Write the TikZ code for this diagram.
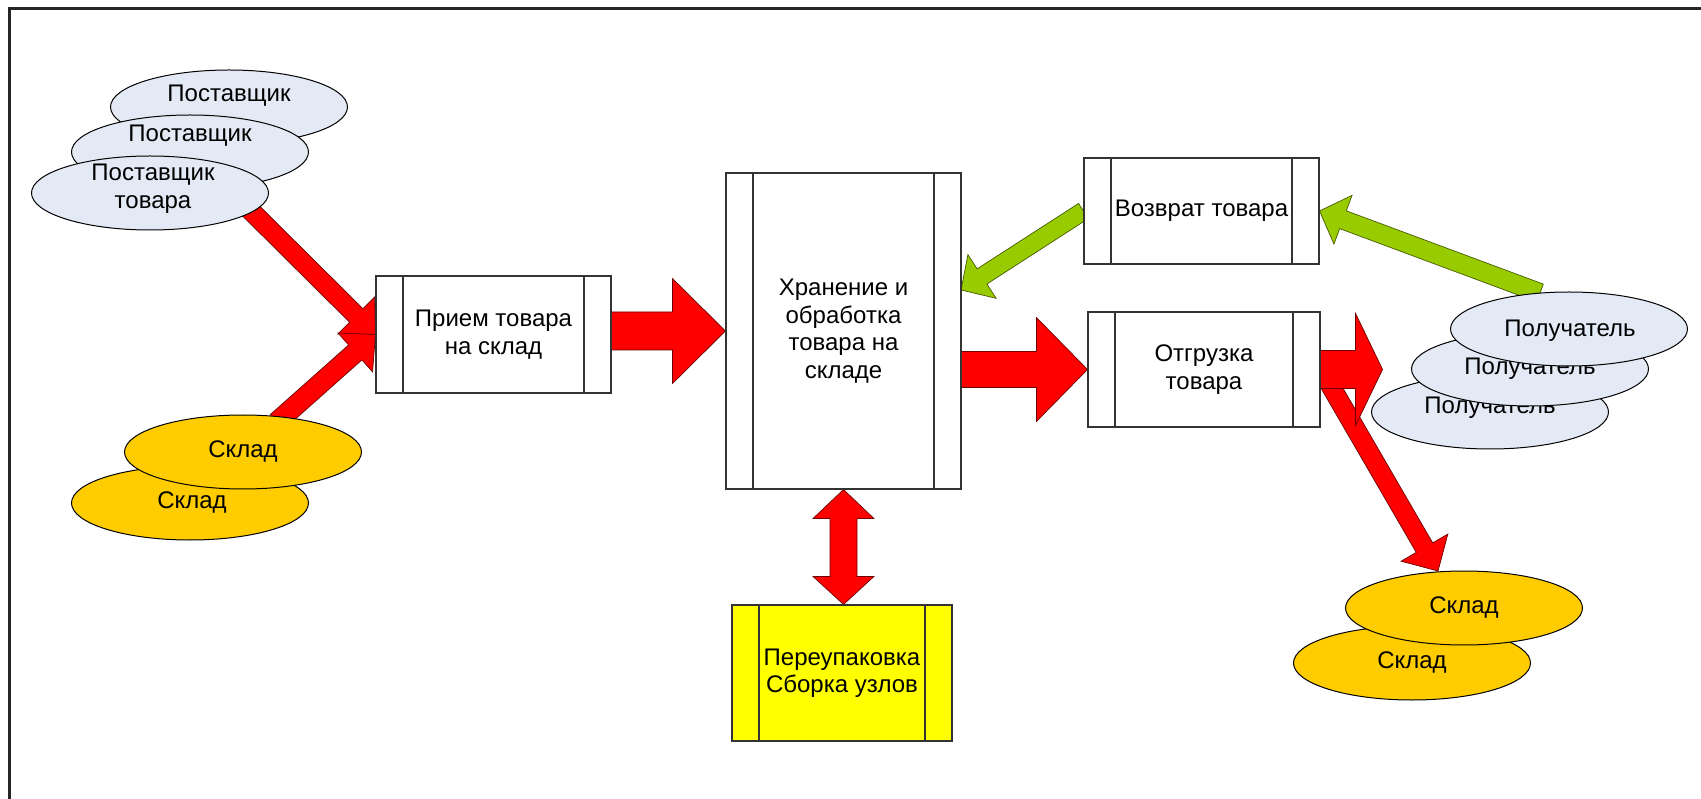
\documentclass[tikz,border=0pt]{standalone}
\usepackage{fontspec}
\setmainfont{Liberation Sans}
\usetikzlibrary{calc,shapes.geometric,backgrounds}
\pgfdeclarelayer{bottom}
\pgfsetlayers{bottom,background,main}
\definecolor{ellblue}{RGB}{228,234,245}
\definecolor{gold}{RGB}{255,204,0}
\definecolor{arrgreen}{RGB}{153,204,0}
\definecolor{pyellow}{RGB}{255,255,0}
\definecolor{reddark}{RGB}{110,0,0}
\definecolor{greendark}{RGB}{70,90,0}
% #1 style, #2 tail, #3 tip, #4 half shaft, #5 half head, #6 head length
\newcommand\blockarr[6]{%
  \coordinate (bbase) at ($(#3)!#6!(#2)$);
  \draw[#1] ($(#2)!#4!90:(#3)$) -- ($(bbase)!#4!90:(#3)$) -- ($(bbase)!#5!90:(#3)$) -- (#3)
    -- ($(bbase)!#5!-90:(#3)$) -- ($(bbase)!#4!-90:(#3)$) -- ($(#2)!#4!-90:(#3)$) -- cycle;}
\begin{document}
\begin{tikzpicture}[x=1pt,y=-1pt,
  every node/.style={font=\fontsize{24}{27.5}\selectfont},
  procbox/.style={rectangle, draw=black!80, line width=1.1pt, fill=white, inner sep=0pt, align=center,
    path picture={\draw[black!80, line width=1.1pt]
      ([xshift=27pt]path picture bounding box.north west) -- ([xshift=27pt]path picture bounding box.south west)
      ([xshift=-27pt]path picture bounding box.north east) -- ([xshift=-27pt]path picture bounding box.south east);}},
  ellnode/.style={ellipse, draw=black, line width=1pt, inner sep=0pt, minimum width=237pt, minimum height=74pt},
  redarr/.style={fill=red, draw=reddark, line width=0.7pt, line join=miter},
  greenarr/.style={fill=arrgreen, draw=greendark, line width=0.7pt, line join=miter},
  lbl/.style={inner sep=0pt, align=center}]
\useasboundingbox (0,0) rectangle (1701,799);
\begin{pgfonlayer}{bottom}
\fill[white] (0,0) rectangle (1701,799);
\end{pgfonlayer}
\draw[line width=3pt, black!85] (1701,9) -- (9,9) -- (9,799);

% process boxes
\node[procbox, minimum width=235pt, minimum height=117pt] (recv) at (493.5,334.5) {Прием товара\\на склад};
\node[procbox, minimum width=235pt, minimum height=316pt] (stor) at (843.5,331) {Хранение и\\обработка\\товара на\\складе};
\node[procbox, minimum width=235pt, minimum height=106pt] (ret) at (1201.5,211) {Возврат товара};
\node[procbox, minimum width=232pt, minimum height=115pt] (ship) at (1204,369.5) {Отгрузка\\товара};
\node[procbox, fill=pyellow, minimum width=220pt, minimum height=136pt] (pack) at (842,673) {Переупаковка\\Сборка узлов};

% suppliers
\node[ellnode, fill=ellblue] (e1) at (229,107) {};
\node[lbl] at ([yshift=11pt]e1.center) {Поставщик};
\node[ellnode, fill=ellblue] (e2) at (190,152) {};
\node[lbl] at ([yshift=16pt]e2.center) {Поставщик};
\node[ellnode, fill=ellblue] (e3) at (150,193) {};
\node[lbl] at ([xshift=3pt,yshift=4.5pt]e3.center) {Поставщик\\товара};

% left warehouses
\node[ellnode, fill=gold] (s2) at (190,503) {};
\node[lbl] at ([xshift=2pt]s2.center) {Склад};
\node[ellnode, fill=gold] (s1) at (243,452) {};
\node[lbl] at (s1.center) {Склад};

% receivers
\node[ellnode, fill=ellblue] (p3) at (1490,412) {};
\node[lbl] at ([yshift=4pt]p3.center) {Получатель};
\node[ellnode, fill=ellblue] (p2) at (1530,369) {};
\node[lbl] at (p2.center) {Получатель};
\node[ellnode, fill=ellblue] (p1) at (1569,329) {};
\node[lbl] at ([xshift=1pt,yshift=-1.5pt]p1.center) {Получатель};

% right warehouses
\node[ellnode, fill=gold] (r2) at (1412,663) {};
\node[lbl] at (r2.center) {Склад};
\node[ellnode, fill=gold] (r1) at (1464,608) {};
\node[lbl] at (r1.center) {Склад};

% arrow end points
\coordinate (a5t) at (245,205);
\coordinate (a6t) at (277,422);
\coordinate (a1t) at (recv.east |- stor.west);
\coordinate (a2t) at (stor.east |- ship.west);
\coordinate (a3h) at ($(ship.east)+(62,0)$);
\coordinate (a4t) at (1322,371);
\coordinate (a4h) at (1438,571);
\coordinate (a7h) at (961,290);
\coordinate (a8t) at (1540,293);
\coordinate (a9b) at (stor.south |- pack.north);

\begin{pgfonlayer}{background}
\blockarr{redarr}{a5t}{recv.west}{9.5pt}{26pt}{27pt}
\blockarr{redarr}{a6t}{recv.west}{10pt}{26pt}{27pt}
\blockarr{redarr}{a1t}{stor.west}{19pt}{52.5pt}{53pt}
\blockarr{redarr}{a2t}{ship.west}{18pt}{52pt}{51pt}
\blockarr{redarr}{a4t}{a4h}{9.5pt}{27pt}{27pt}
\blockarr{redarr}{ship.east}{a3h}{19pt}{56pt}{27pt}
\blockarr{greenarr}{ret.west}{a7h}{9pt}{26pt}{25pt}
\blockarr{greenarr}{a8t}{ret.east}{9.5pt}{26pt}{25pt}
\draw[redarr] (stor.south) -- ($(stor.south)+(30.5,29)$) -- ($(stor.south)+(13.5,29)$)
  -- ($(a9b)+(13.5,-28)$) -- ($(a9b)+(30.5,-28)$) -- (a9b) -- ($(a9b)+(-30.5,-28)$)
  -- ($(a9b)+(-13.5,-28)$) -- ($(stor.south)+(-13.5,29)$) -- ($(stor.south)+(-30.5,29)$) -- cycle;
\end{pgfonlayer}
\end{tikzpicture}
\end{document}
